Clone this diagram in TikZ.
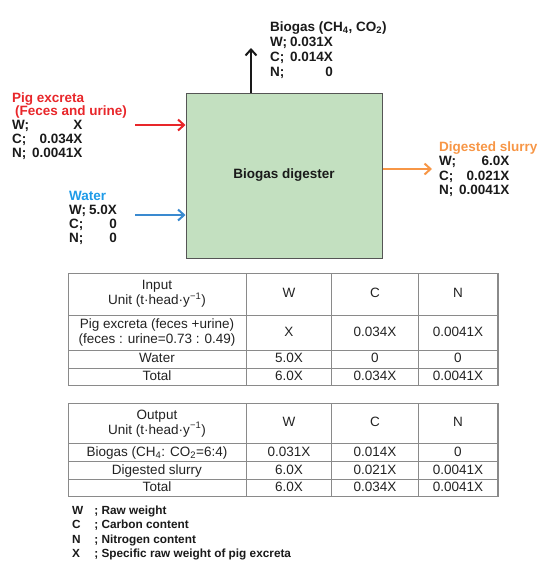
\documentclass[tikz,border=0pt]{standalone}
\usepackage{fontspec}
\setmainfont{Liberation Sans}
\usetikzlibrary{arrows.meta}
\definecolor{pigred}{HTML}{E8262A}
\definecolor{waterblue}{HTML}{1E9BE8}
\definecolor{waterarrow}{HTML}{3A8AD0}
\definecolor{slurry}{HTML}{F79646}
\definecolor{digfill}{HTML}{C3E0C0}
\definecolor{digborder}{HTML}{555555}
\definecolor{txt}{HTML}{1A1A1A}
\definecolor{tabtxt}{HTML}{222222}
\definecolor{grid}{HTML}{8A8A8A}
\begin{document}
\begin{tikzpicture}[x=1pt,y=-1pt,
  lbl/.style={inner sep=0pt, anchor=base west, text=txt, font={\fontsize{13.5}{14}\selectfont\bfseries}},
  flow/.style={line width=2pt, -{Straight Barb[length=6pt,width=11pt,line width=2pt]}},
  cell/.style={inner sep=0pt, text=tabtxt, font={\fontsize{13.5}{15}\selectfont}, align=center, text height=9.5pt, text depth=2.5pt},
  cellh/.style={inner sep=0pt, text=tabtxt, font={\fontsize{13.5}{15}\selectfont}, align=center},
  outer/.style={draw=grid, line width=1.4pt},
  inner/.style={draw=grid, line width=0.9pt},
  legend/.style={inner sep=0pt, anchor=base west, text=txt, font={\fontsize{11.8}{14.5}\selectfont\bfseries}}
]
\useasboundingbox (0,0) rectangle (539,566);

% digester
\node[draw=digborder, line width=1pt, fill=digfill, minimum width=196pt, minimum height=165pt, inner sep=0pt,
      font={\fontsize{13.5}{14}\selectfont\bfseries}, text=txt] (dig) at (284,175.5) {Biogas digester};

% arrows
\coordinate (gasend) at (251,48);
\coordinate (pigstart) at (135,125);
\coordinate (waterstart) at (135,215);
\coordinate (slurryend) at (432,169);
\draw[flow, draw=black!90] (dig.north -| gasend) -- (gasend);
\draw[flow, draw=pigred] (pigstart) -- (pigstart -| dig.west);
\draw[flow, draw=waterarrow] (waterstart) -- (waterstart -| dig.west);
\draw[flow, draw=slurry] (slurryend -| dig.east) -- (slurryend);

% labels
\node[lbl] (gaslbl) at (270,31.5) {\fontsize{13.5}{15}\selectfont\begin{tabular}[t]{@{}l@{\hspace{3pt}}r@{}}
\multicolumn{2}{@{}l@{}}{\rlap{Biogas (CH\textsubscript{4}, CO\textsubscript{2})}}\\
W; & 0.031X\\ C; & 0.014X\\ N; & 0\end{tabular}};

\node[lbl] (piglbl) at (12,102) {\fontsize{13.5}{13.8}\selectfont\begin{tabular}[t]{@{}l@{\hspace{3pt}}r@{}}
\multicolumn{2}{@{}l@{}}{\rlap{\textcolor{pigred}{Pig excreta}}}\\
\multicolumn{2}{@{}l@{}}{\rlap{\textcolor{pigred}{\hspace{3pt}(Feces and urine)}}}\\
W; & X\\ C; & 0.034X\\ N; & 0.0041X\end{tabular}};

\node[lbl] (waterlbl) at (69,200) {\fontsize{13.5}{14}\selectfont\begin{tabular}[t]{@{}l@{\hspace{3pt}}r@{}}
\multicolumn{2}{@{}l@{}}{\rlap{\textcolor{waterblue}{Water}}}\\
W; & 5.0X\\ C; & 0\\ N; & 0\end{tabular}};

\node[lbl] (slurrylbl) at (439,151) {\fontsize{13.5}{14.5}\selectfont\begin{tabular}[t]{@{}l@{\hspace{3pt}}r@{}}
\multicolumn{2}{@{}l@{}}{\rlap{\textcolor{slurry}{Digested slurry}}}\\
W; & 6.0X\\ C; & 0.021X\\ N; & 0.0041X\end{tabular}};

% table 1 (input)
\draw[inner] (246,273.3) -- (246,385.7) (331.7,273.3) -- (331.7,385.7) (418.3,273.3) -- (418.3,385.7);
\draw[inner] (68.3,315) -- (498,315) (68.3,350) -- (498,350) (68.3,368.3) -- (498,368.3);
\draw[outer] (68.3,273.3) rectangle (498,385.7);
\node[cellh] (t1h) at (157,294) {Input\\Unit (t\textperiodcentered head\textperiodcentered y\textsuperscript{−1})};
\node[cell] (t1hw) at (289,294) {W};
\node[cell] (t1hc) at (375,294) {C};
\node[cell] (t1hn) at (458,294) {N};
\node[cellh] (t1r1) at (157,332.5) {Pig excreta (feces +urine)\\(feces : urine=0.73 : 0.49)};
\node[cell] (t1r1w) at (289,332.5) {X};
\node[cell] (t1r1c) at (375,332.5) {0.034X};
\node[cell] (t1r1n) at (458,332.5) {0.0041X};
\node[cell] (t1r2) at (157,359) {Water};
\node[cell] (t1r2w) at (289,359) {5.0X};
\node[cell] (t1r2c) at (375,359) {0};
\node[cell] (t1r2n) at (458,359) {0};
\node[cell] (t1r3) at (157,377) {Total};
\node[cell] (t1r3w) at (289,377) {6.0X};
\node[cell] (t1r3c) at (375,377) {0.034X};
\node[cell] (t1r3n) at (458,377) {0.0041X};

% table 2 (output)
\draw[inner] (246,403.3) -- (246,496.7) (331.7,403.3) -- (331.7,496.7) (418.3,403.3) -- (418.3,496.7);
\draw[inner] (68.3,443.3) -- (498,443.3) (68.3,461.7) -- (498,461.7) (68.3,479.3) -- (498,479.3);
\draw[outer] (68.3,403.3) rectangle (498,496.7);
\node[cellh] (t2h) at (157,423.3) {Output\\Unit (t\textperiodcentered head\textperiodcentered y\textsuperscript{−1})};
\node[cell] (t2hw) at (289,423.3) {W};
\node[cell] (t2hc) at (375,423.3) {C};
\node[cell] (t2hn) at (458,423.3) {N};
\node[cell] (t2r1) at (157,452.5) {Biogas (CH\textsubscript{4}: CO\textsubscript{2}=6:4)};
\node[cell] (t2r1w) at (289,452.5) {0.031X};
\node[cell] (t2r1c) at (375,452.5) {0.014X};
\node[cell] (t2r1n) at (458,452.5) {0};
\node[cell] (t2r2) at (157,470.5) {Digested slurry};
\node[cell] (t2r2w) at (289,470.5) {6.0X};
\node[cell] (t2r2c) at (375,470.5) {0.021X};
\node[cell] (t2r2n) at (458,470.5) {0.0041X};
\node[cell] (t2r3) at (157,488) {Total};
\node[cell] (t2r3w) at (289,488) {6.0X};
\node[cell] (t2r3c) at (375,488) {0.034X};
\node[cell] (t2r3n) at (458,488) {0.0041X};

% legend
\node[legend] (leg) at (72,514) {\begin{tabular}[t]{@{}l@{\hspace{11pt}}l@{}}
W & ; Raw weight\\ C & ; Carbon content\\ N & ; Nitrogen content\\ X & ; Specific raw weight of pig excreta\end{tabular}};
\end{tikzpicture}
\end{document}
